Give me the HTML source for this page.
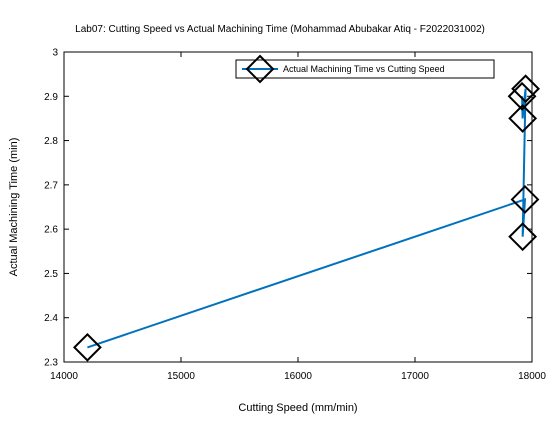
<!DOCTYPE html>
<html><head><meta charset="utf-8"><style>
body{margin:0;background:#fff;font-family:"Liberation Sans",sans-serif;}
svg text{font-family:"Liberation Sans",sans-serif;}
</style></head><body>
<svg id="c" width="560" height="420" xmlns="http://www.w3.org/2000/svg">
<rect x="0" y="0" width="560" height="420" fill="#fff"/>
<g id="axes"></g>
<g id="plot"></g>
<g id="legend">
<rect x="236" y="60" width="258" height="18" fill="#fff" stroke="#000" stroke-width="1"/>
<line x1="242" y1="69" x2="278" y2="69" stroke="#0072bd" stroke-width="2"/>
<path d="M260 56 L273 69 L260 82 L247 69 Z" fill="none" stroke="#000" stroke-width="2"/>
<text x="283" y="72" font-size="9">Actual Machining Time vs Cutting Speed</text>
</g>
<text x="280" y="32" font-size="10" text-anchor="middle">Lab07: Cutting Speed vs Actual Machining Time (Mohammad Abubakar Atiq - F2022031002)</text>
<text x="298" y="411" font-size="11" text-anchor="middle">Cutting Speed (mm/min)</text>
<text transform="translate(17,207) rotate(-90)" font-size="11" text-anchor="middle">Actual Machining Time (min)</text>
</svg>
<script>
const speeds=[14200,17940,17920,17945,17920,17915];
const times=[2.333,2.667,2.583,2.917,2.85,2.9];
const xTicks=[14000,15000,16000,17000,18000];
const yTicks=[2.3,2.4,2.5,2.6,2.7,2.8,2.9,3];
const X0=64,X1=532,Y0=362,Y1=52;
const xs=v=>X0+(v-14000)/4000*(X1-X0);
const ys=v=>Y0-(v-2.3)/0.7*(Y0-Y1);
const NS="http://www.w3.org/2000/svg";
const ax=document.getElementById('axes'),pl=document.getElementById('plot');
function mk(t,a,p){const e=document.createElementNS(NS,t);for(const k in a)e.setAttribute(k,a[k]);p.appendChild(e);return e;}
const frame=mk('rect',{x:X0,y:Y1,width:X1-X0,height:Y0-Y1,fill:'#fff',stroke:'#000','stroke-width':1},ax);


xTicks.forEach(v=>{const x=xs(v);
mk('line',{x1:x,y1:Y0,x2:x,y2:Y0-5,stroke:'#000'},ax);mk('line',{x1:x,y1:Y1,x2:x,y2:Y1+5,stroke:'#000'},ax);
const t=mk('text',{x:x,y:Y0+17,'font-size':10,'text-anchor':'middle'},ax);t.textContent=v;

});
yTicks.forEach(v=>{const y=ys(v);
mk('line',{x1:X0,y1:y,x2:X0+5,y2:y,stroke:'#000'},ax);mk('line',{x1:X1,y1:y,x2:X1-5,y2:y,stroke:'#000'},ax);
const t=mk('text',{x:X0-6,y:y+3.5,'font-size':10,'text-anchor':'end'},ax);t.textContent=(v===3?'3':v.toFixed(1));

});
const line=mk('polyline',{points:speeds.map((s,i)=>xs(s)+','+ys(times[i])).join(' '),fill:'none',stroke:'#0072bd','stroke-width':2},pl);


speeds.forEach((s,i)=>{const x=xs(s),y=ys(times[i]);
const d=mk('path',{d:`M${x} ${y-13} L${x+13} ${y} L${x} ${y+13} L${x-13} ${y} Z`,fill:'none',stroke:'#000','stroke-width':2},pl);

});
</script>
</body></html>
